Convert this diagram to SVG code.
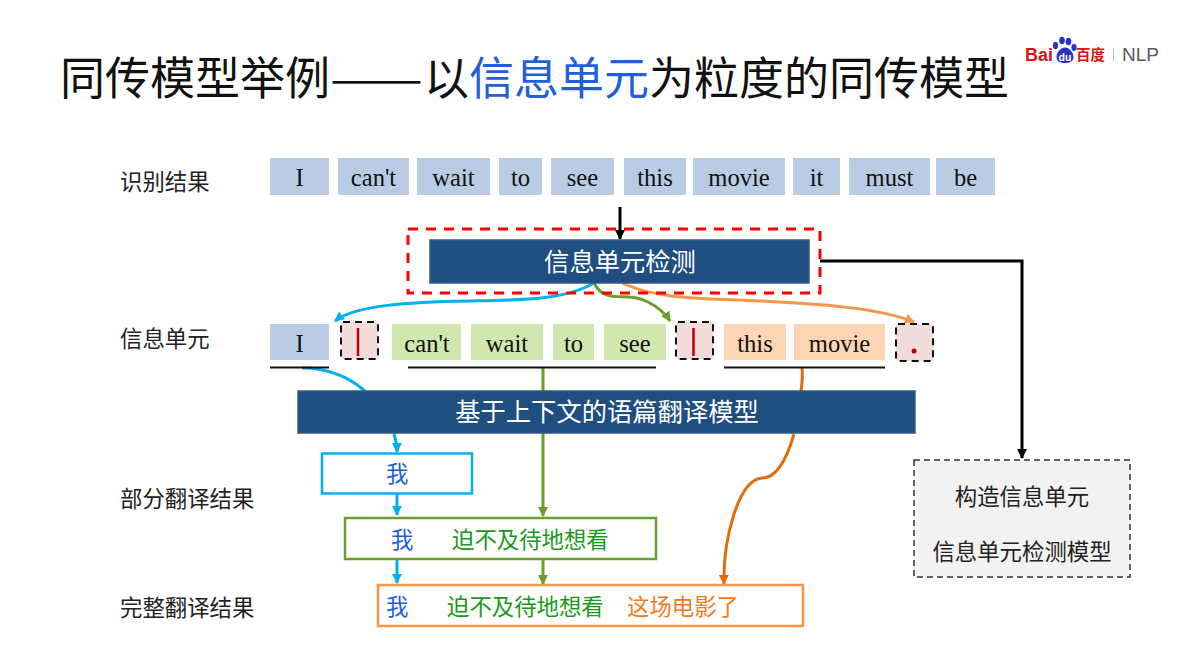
<svg xmlns="http://www.w3.org/2000/svg" width="1180" height="663" viewBox="0 0 1180 663">
<style>
text{font-family:"Noto Sans CJK SC","Liberation Sans",sans-serif}
.title{font-size:45px;fill:#111}
.lbl{font-size:22.400px;fill:#222}
.w{font-family:"Liberation Serif","Noto Sans CJK SC",serif;font-size:24.600px;fill:#111;text-anchor:middle}
.blue{fill:#b8cce4}.green{fill:#d0e8b0}.peach{fill:#fcd5b4}
.sep{fill:#f2dcdb;stroke:#111;stroke-width:2;stroke-dasharray:7 5}
.bar{fill:#1f4e80;stroke:#34597f;stroke-width:1.500}
.bt{font-size:25.300px;fill:#fff;text-anchor:middle}
.c{fill:none;stroke-width:3}
.t{font-size:22.400px}
</style>
<defs>
<marker id="ak" markerUnits="userSpaceOnUse" markerWidth="12" markerHeight="10" refX="9" refY="5" orient="auto"><path d="M0 0L10 5L0 10z" fill="#000"/></marker>
<marker id="ab" markerUnits="userSpaceOnUse" markerWidth="12" markerHeight="10" refX="9" refY="5" orient="auto"><path d="M0 0L10 5L0 10z" fill="#00b0f0"/></marker>
<marker id="ag" markerUnits="userSpaceOnUse" markerWidth="12" markerHeight="10" refX="9" refY="5" orient="auto"><path d="M0 0L10 5L0 10z" fill="#6a9f2e"/></marker>
<marker id="ao" markerUnits="userSpaceOnUse" markerWidth="12" markerHeight="10" refX="9" refY="5" orient="auto"><path d="M0 0L10 5L0 10z" fill="#f79646"/></marker>
<marker id="ad" markerUnits="userSpaceOnUse" markerWidth="12" markerHeight="10" refX="9" refY="5" orient="auto"><path d="M0 0L10 5L0 10z" fill="#e36c0a"/></marker>
</defs>
<rect width="1180" height="663" fill="#fff"/>

<g id="heading">
<text class="title" x="60" y="95">同传模型举例</text>
<text class="title" x="330" y="95" textLength="93" lengthAdjust="spacingAndGlyphs">——</text>
<text class="title" x="424" y="95">以<tspan fill="#1f5fd8">信息单元</tspan>为粒度的同传模型</text>
</g>

<g id="logo">
<text x="1025" y="61" style="font-family:'Liberation Sans',sans-serif;font-weight:700;font-size:18px" fill="#e01010">Bai</text>
<g fill="#2932c8">
<ellipse cx="1055.500" cy="45.500" rx="2.600" ry="3.800"/><ellipse cx="1062" cy="40.500" rx="2.800" ry="3.800"/><ellipse cx="1068.500" cy="41.500" rx="2.800" ry="3.800"/><ellipse cx="1074" cy="47.500" rx="2.600" ry="3.400"/>
<path d="M1065 47.500c4 0 8.500 5 8.500 9.500s-4 6-8.500 6-8.500-1.500-8.500-6 4.500-9.500 8.500-9.500z"/>
</g>
<text x="1065" y="61" text-anchor="middle" style="font-family:'Liberation Sans',sans-serif;font-weight:700;font-size:10.500px" fill="#fff">du</text>
<text x="1076" y="60" style="font-size:14.500px;font-weight:700" fill="#e01010">百度</text>
<rect x="1113" y="48" width="1" height="13" fill="#bbb"/>
<text x="1122" y="61" style="font-family:'Liberation Sans',sans-serif;font-size:19px" fill="#595959">NLP</text>
</g>

<g id="row-labels">
<text class="lbl" x="120" y="189.500">识别结果</text>
<text class="lbl" x="120" y="346.500">信息单元</text>
<text class="lbl" x="120" y="507">部分翻译结果</text>
<text class="lbl" x="120" y="616">完整翻译结果</text>
</g>

<g id="recognized-words">
<rect class="blue" x="270" y="158" width="59" height="37"/><text class="w" x="299.500" y="186">I</text>
<rect class="blue" x="338" y="158" width="71" height="37"/><text class="w" x="373.500" y="186">can't</text>
<rect class="blue" x="417" y="158" width="73" height="37"/><text class="w" x="453.500" y="186">wait</text>
<rect class="blue" x="499" y="158" width="43" height="37"/><text class="w" x="520.500" y="186">to</text>
<rect class="blue" x="551" y="158" width="63" height="37"/><text class="w" x="582.500" y="186">see</text>
<rect class="blue" x="624" y="158" width="62" height="37"/><text class="w" x="655" y="186">this</text>
<rect class="blue" x="693" y="158" width="92" height="37"/><text class="w" x="739" y="186">movie</text>
<rect class="blue" x="793" y="158" width="47" height="37"/><text class="w" x="816.500" y="186">it</text>
<rect class="blue" x="849" y="158" width="81" height="37"/><text class="w" x="889.500" y="186">must</text>
<rect class="blue" x="936" y="158" width="59" height="37"/><text class="w" x="965.500" y="186">be</text>
</g>

<g id="connectors">
<path class="c" stroke="#000" d="M620 207V239" marker-end="url(#ak)"/>
<path class="c" stroke="#000" d="M820 261H1022V458" marker-end="url(#ak)"/>
<path class="c" stroke="#00b0f0" d="M594 283C565 300 520 300 470 301C410 302 355 305 335 321" marker-end="url(#ab)"/>
<path class="c" stroke="#6a9f2e" d="M594 283C606 306 625 290 648 302C658 307 665 313 670 321" marker-end="url(#ag)"/>
<path class="c" stroke="#f79646" d="M622 283C660 300 700 298 760 301C820 304 880 308 914 322" marker-end="url(#ao)"/>
<path class="c" stroke="#00b0f0" d="M302 368C330 368 350 378 365 391"/>
<path class="c" stroke="#00b0f0" d="M394 434C396 440 397 446 397 452" marker-end="url(#ab)"/>
<path class="c" stroke="#00b0f0" d="M397 494V515" marker-end="url(#ab)"/>
<path class="c" stroke="#00b0f0" d="M397 560V583" marker-end="url(#ab)"/>
<path class="c" stroke="#6a9f2e" d="M543 368V391"/>
<path class="c" stroke="#6a9f2e" d="M543 433V516" marker-end="url(#ag)"/>
<path class="c" stroke="#6a9f2e" d="M543 560V584" marker-end="url(#ag)"/>
<path class="c" stroke="#e36c0a" d="M802 368C803 376 802 384 801 391"/>
<path class="c" stroke="#e36c0a" d="M794 434C788 455 778 478 762 478C738 480 723 540 724 584" marker-end="url(#ad)"/>
</g>

<g id="detect-frame"><rect x="408" y="229" width="412" height="64" fill="none" stroke="#f00" stroke-width="3" stroke-dasharray="10 8"/></g>
<g id="detect-model">
<rect class="bar" x="430" y="240" width="379" height="43"/>
<text class="bt" x="620" y="271">信息单元检测</text>
</g>

<g id="info-units">
<rect class="blue" x="270" y="324" width="59" height="36"/><text class="w" x="299.500" y="352">I</text>
<rect class="sep" x="341" y="322" width="37" height="37" rx="2"/><path d="M358 328V356" stroke="#c00000" stroke-width="2.500"/>
<rect class="green" x="392" y="324" width="69" height="36"/><text class="w" x="427" y="352">can't</text>
<rect class="green" x="471" y="324" width="72" height="36"/><text class="w" x="507" y="352">wait</text>
<rect class="green" x="553" y="324" width="41" height="36"/><text class="w" x="573.500" y="352">to</text>
<rect class="green" x="604" y="324" width="62" height="36"/><text class="w" x="635" y="352">see</text>
<rect class="sep" x="676" y="322" width="37" height="37" rx="2"/><path d="M693.500 328V356" stroke="#c00000" stroke-width="2.500"/>
<rect class="peach" x="724" y="324" width="62" height="36"/><text class="w" x="755" y="352">this</text>
<rect class="peach" x="794" y="324" width="91" height="36"/><text class="w" x="839.500" y="352">movie</text>
<rect class="sep" x="896" y="324" width="37" height="37" rx="2"/><circle cx="914" cy="351" r="2.500" fill="#c00000"/>
<path d="M270 367.500H329M408 367.500H656M724 367.500H885" stroke="#111" stroke-width="2" fill="none"/>
</g>

<g id="translation-model">
<rect class="bar" x="298" y="391" width="617" height="42"/>
<text class="bt" x="607" y="421">基于上下文的语篇翻译模型</text>
</g>

<g id="partial-1">
<rect x="322" y="453.500" width="150" height="40" fill="#fff" stroke="#00b0f0" stroke-width="2.500"/>
<text class="t" x="386" y="482" fill="#1f5fd8">我</text>
</g>
<g id="partial-2">
<rect x="345" y="518" width="311" height="41" fill="#fff" stroke="#6a9f2e" stroke-width="2.500"/>
<text class="t" x="391" y="547.500" fill="#1f5fd8">我</text>
<text class="t" x="452" y="547.500" fill="#1a9a1a">迫不及待地想看</text>
</g>
<g id="complete">
<rect x="378" y="585" width="425" height="41" fill="#fff" stroke="#f79646" stroke-width="2.500"/>
<text class="t" x="386" y="614.500" fill="#1f5fd8">我</text>
<text class="t" x="447" y="614.500" fill="#1a9a1a">迫不及待地想看</text>
<text class="t" x="627" y="614.500" fill="#f07a1a">这场电影了</text>
</g>

<g id="build-box">
<rect x="914" y="460" width="216" height="117" fill="#f2f2f2" stroke="#333" stroke-width="1.500" stroke-dasharray="6 4"/>
<text x="1022" y="505" text-anchor="middle" class="lbl">构造信息单元</text>
<text x="1022" y="560" text-anchor="middle" class="lbl">信息单元检测模型</text>
</g>
</svg>
